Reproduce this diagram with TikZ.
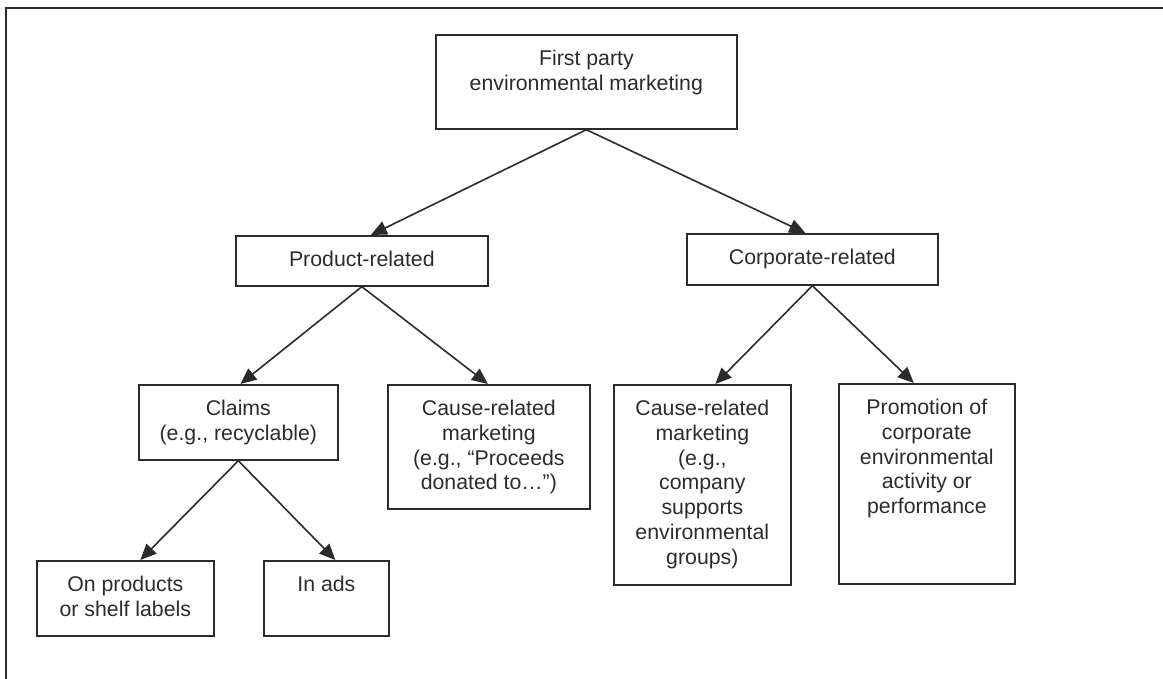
\documentclass[tikz,border=0pt]{standalone}
\usepackage{fontspec}
\setmainfont{Liberation Sans}
\usetikzlibrary{arrows.meta}
\definecolor{ink}{HTML}{2B2B2B}
% box content: fixed-size paragraph, text hung from the top edge
\newcommand\boxtext[3]{\parbox[c][#2][t]{#1}{\centering\rule{0pt}{31pt}#3\par}}
\tikzset{
  box/.style={draw=ink, line width=1.7pt, inner sep=0pt, anchor=north west,
    font=\fontsize{21.3}{24.7}\selectfont, text=ink},
  link/.style={draw=ink, line width=1.6pt, -{Triangle[length=16pt,width=14pt]}},
  frame/.style={draw=ink, line width=1.9pt}
}
\begin{document}
\begin{tikzpicture}[x=1pt,y=-1pt]
\useasboundingbox (0,0) rectangle (1163,679);
% open frame: top and left rules only
\coordinate (fTR) at (1163,8);
\coordinate (fTL) at (6,8);
\coordinate (fBL) at (6,679);
\draw[frame] (fTR) -- (fTL) -- (fBL);

\node[box] (root)  at (435,34)  {\boxtext{301pt}{94pt}{First party\\environmental marketing}};
\node[box] (prod)  at (235,235) {\boxtext{252pt}{50pt}{Product-related}};
\node[box] (corp)  at (686,233) {\boxtext{251pt}{51pt}{Corporate-related}};
\node[box] (claim) at (138,384) {\boxtext{199pt}{75pt}{Claims\\(e.g., recyclable)}};
\node[box] (causeP) at (387,384) {\boxtext{202pt}{124pt}{Cause-related\\marketing\\(e.g., “Proceeds\\donated to…”)}};
\node[box] (causeC) at (613,384) {\boxtext{177pt}{200pt}{Cause-related\\marketing\\(e.g.,\\company\\supports\\environmental\\groups)}};
\node[box] (promo) at (838,383) {\boxtext{176pt}{200pt}{Promotion of\\corporate\\environmental\\activity or\\performance}};
\node[box] (onprod) at (36,560) {\boxtext{177pt}{75pt}{On products\\or shelf labels}};
\node[box] (ads)   at (263,560) {\boxtext{125pt}{75pt}{In ads}};

\draw[link] (root.south) -- ([xshift=9pt]prod.north);
\draw[link] (root.south) -- ([xshift=-7pt]corp.north);
\draw[link] (prod.south) -- ([xshift=2pt]claim.north);
\draw[link] (prod.south) -- ([xshift=-1pt]causeP.north);
\draw[link] (corp.south) -- ([xshift=13pt]causeC.north);
\draw[link] (corp.south) -- ([xshift=-13pt]promo.north);
\draw[link] (claim.south) -- ([xshift=15pt]onprod.north);
\draw[link] (claim.south) -- ([xshift=9pt]ads.north);
\end{tikzpicture}
\end{document}
